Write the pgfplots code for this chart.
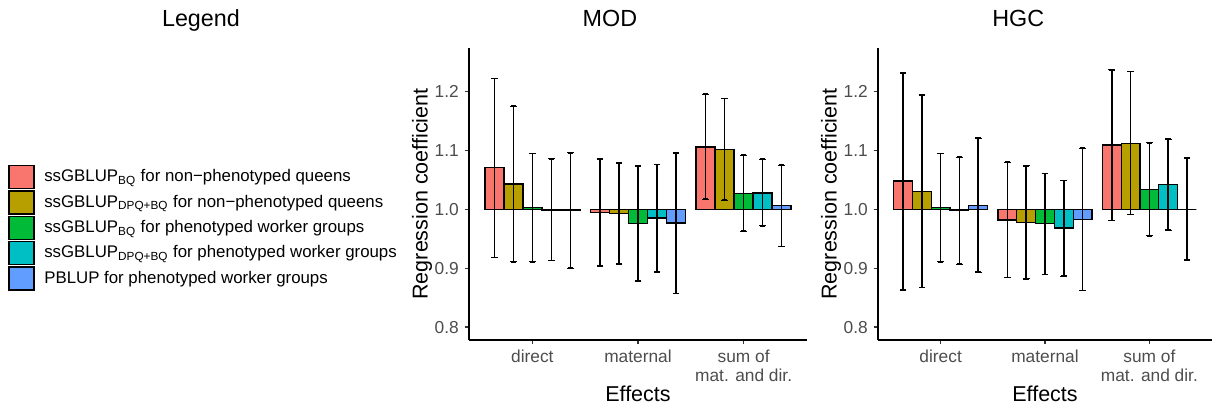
\documentclass[border=0pt]{standalone}
\usepackage{pgfplots}
\usepackage{pgfplotstable}
\pgfplotsset{compat=1.18}
\usepackage{fontspec}
\setmainfont{Liberation Sans}
\definecolor{cA}{HTML}{F8766D}
\definecolor{cB}{HTML}{B79F00}
\definecolor{cC}{HTML}{00BA38}
\definecolor{cD}{HTML}{00BFC4}
\definecolor{cE}{HTML}{619CFF}
\definecolor{tickgray}{HTML}{4D4D4D}
\definecolor{tickmark}{HTML}{333333}

\pgfplotstableread{
x vA loA hiA vB loB hiB vC loC hiC vD loD hiD vE loE hiE
1 1.071 0.918 1.222 1.043 0.911 1.175 1.003 0.911 1.095 0.999 0.913 1.086 0.999 0.900 1.096
2 0.995 0.904 1.085 0.993 0.907 1.079 0.976 0.878 1.074 0.985 0.894 1.076 0.977 0.857 1.096
3 1.106 1.017 1.196 1.102 1.016 1.188 1.027 0.963 1.092 1.028 0.972 1.085 1.006 0.937 1.075
}\modtab
\pgfplotstableread{
x vA loA hiA vB loB hiB vC loC hiC vD loD hiD vE loE hiE
1 1.048 0.863 1.231 1.030 0.867 1.194 1.003 0.911 1.095 0.998 0.907 1.089 1.007 0.893 1.121
2 0.982 0.884 1.080 0.978 0.882 1.074 0.976 0.889 1.061 0.968 0.887 1.049 0.983 0.862 1.104
3 1.109 0.981 1.237 1.112 0.991 1.234 1.034 0.955 1.113 1.042 0.965 1.119 1.000 0.914 1.087
}\hgctab

% bars (in the axis whose y origin is moved to 1.0)
\newcommand\bars[4]{%
\addplot[ybar, bar width=0.18, bar shift=#4, fill=#3, draw=black, line width=0.8pt, forget plot]
  table[x=x, y=v#2] {#1};}
% error bars (in an overlay axis with the same limits)
\newcommand\errs[3]{%
\addplot[black, draw opacity=0, mark=none, forget plot,
  error bars/.cd, y dir=both, y explicit,
  error bar style={draw=black, draw opacity=1, line width=1pt}]
  table[x expr=\thisrow{x}+#3, y=v#2, y error plus expr=\thisrow{hi#2}-\thisrow{v#2},
        y error minus expr=\thisrow{v#2}-\thisrow{lo#2}] {#1};
\addplot[only marks, black, mark=-, mark size=1.7pt, mark options={line width=1pt}, forget plot]
  table[x expr=\thisrow{x}+#3, y=hi#2] {#1};
\addplot[only marks, black, mark=-, mark size=1.7pt, mark options={line width=1pt}, forget plot]
  table[x expr=\thisrow{x}+#3, y=lo#2] {#1};}

\pgfplotsset{
  every axis title shift=0pt,
  panel/.style={
    scale only axis, height=175.2pt,
    xmin=0.4, xmax=3.6, ymin=0.778, ymax=1.274,
    axis x line*=bottom, axis y line*=left,
    axis line style={black, line width=0.8pt, -},
    xtick={1,2,3}, xticklabels={direct, maternal, {sum of\\mat. and dir.}},
    ytick={0.8,0.9,1.0,1.1,1.2}, yticklabels={0.8,0.9,1.0,1.1,1.2},
    xtick pos=bottom, ytick pos=left,
    tick align=outside, major tick length=2.6pt,
    tick style={tickmark, line width=0.7pt},
    ticklabel style={font=\fontsize{10.4}{11.5}\selectfont, text=tickgray},
    xticklabel style={align=center},
    /pgf/number format/assume math mode=true,
    xlabel=Effects, ylabel=Regression coefficient,
    label style={font=\fontsize{12.9}{15}\selectfont},
    xlabel style={at={(axis description cs:0.5,-0.185)}, anchor=center},
    clip=false,
  },
  overlay/.style={
    scale only axis, height=175.2pt,
    xmin=0.4, xmax=3.6, ymin=0.778, ymax=1.274,
    hide axis, clip=false,
  }
}

\begin{document}
\begin{tikzpicture}
\begin{axis}[panel, width=202.8pt, at={(281.4pt,-204pt)}, anchor=south west,
  title=MOD,
  title style={at={(axis description cs:0.417,1.072)}, anchor=base, yshift=0pt, font=\fontsize{14}{17}\selectfont},
  ylabel style={at={(axis description cs:-0.139,0.5)}, anchor=center, rotate=0},
  y coord trafo/.code={\pgfmathparse{#1-1}},
  y coord inv trafo/.code={\pgfmathparse{#1+1}},
  legend style={at={(axis description cs:-1.364,0.601)}, anchor=north west, draw=none, fill=none,
    font=\fontsize{10.1}{12}\selectfont, row sep=0.6pt, inner sep=0pt, cells={anchor=west}},
  legend cell align=left,
  legend image code/.code={\draw[#1,draw=black,line width=0.8pt] (0pt,-6.9pt) rectangle (15pt,6.9pt); \path (19pt,0pt);},
]
\bars{\modtab}{A}{cA}{-0.36}
\bars{\modtab}{B}{cB}{-0.18}
\bars{\modtab}{C}{cC}{0}
\bars{\modtab}{D}{cD}{0.18}
\bars{\modtab}{E}{cE}{0.36}
\addlegendimage{fill=cA}\addlegendentry{ssGBLUP\textsubscript{BQ} for non−phenotyped queens}
\addlegendimage{fill=cB}\addlegendentry{ssGBLUP\textsubscript{DPQ+BQ} for non−phenotyped queens}
\addlegendimage{fill=cC}\addlegendentry{ssGBLUP\textsubscript{BQ} for phenotyped worker groups}
\addlegendimage{fill=cD}\addlegendentry{ssGBLUP\textsubscript{DPQ+BQ} for phenotyped worker groups}
\addlegendimage{fill=cE}\addlegendentry{PBLUP for phenotyped worker groups}
\node[font=\fontsize{14}{17}\selectfont, anchor=base] at (axis description cs:-0.793,1.072) {Legend};
\end{axis}
\begin{axis}[overlay, width=202.8pt, at={(281.4pt,-204pt)}, anchor=south west]
\errs{\modtab}{A}{-0.36}
\errs{\modtab}{B}{-0.18}
\errs{\modtab}{C}{0}
\errs{\modtab}{D}{0.18}
\errs{\modtab}{E}{0.36}
\end{axis}
\begin{axis}[panel, width=200.4pt, at={(526.8pt,-204pt)}, anchor=south west,
  title=HGC,
  title style={at={(axis description cs:0.42,1.072)}, anchor=base, yshift=0pt, font=\fontsize{14}{17}\selectfont},
  ylabel style={at={(axis description cs:-0.1407,0.5)}, anchor=center, rotate=0},
  y coord trafo/.code={\pgfmathparse{#1-1}},
  y coord inv trafo/.code={\pgfmathparse{#1+1}},
]
\bars{\hgctab}{A}{cA}{-0.36}
\bars{\hgctab}{B}{cB}{-0.18}
\bars{\hgctab}{C}{cC}{0}
\bars{\hgctab}{D}{cD}{0.18}
\bars{\hgctab}{E}{cE}{0.36}
\end{axis}
\begin{axis}[overlay, width=200.4pt, at={(526.8pt,-204pt)}, anchor=south west]
\errs{\hgctab}{A}{-0.36}
\errs{\hgctab}{B}{-0.18}
\errs{\hgctab}{C}{0}
\errs{\hgctab}{D}{0.18}
\errs{\hgctab}{E}{0.36}
\end{axis}
\pgfresetboundingbox
\path (0pt,0pt) rectangle (727.8pt,-244.8pt);
\end{tikzpicture}
\end{document}
